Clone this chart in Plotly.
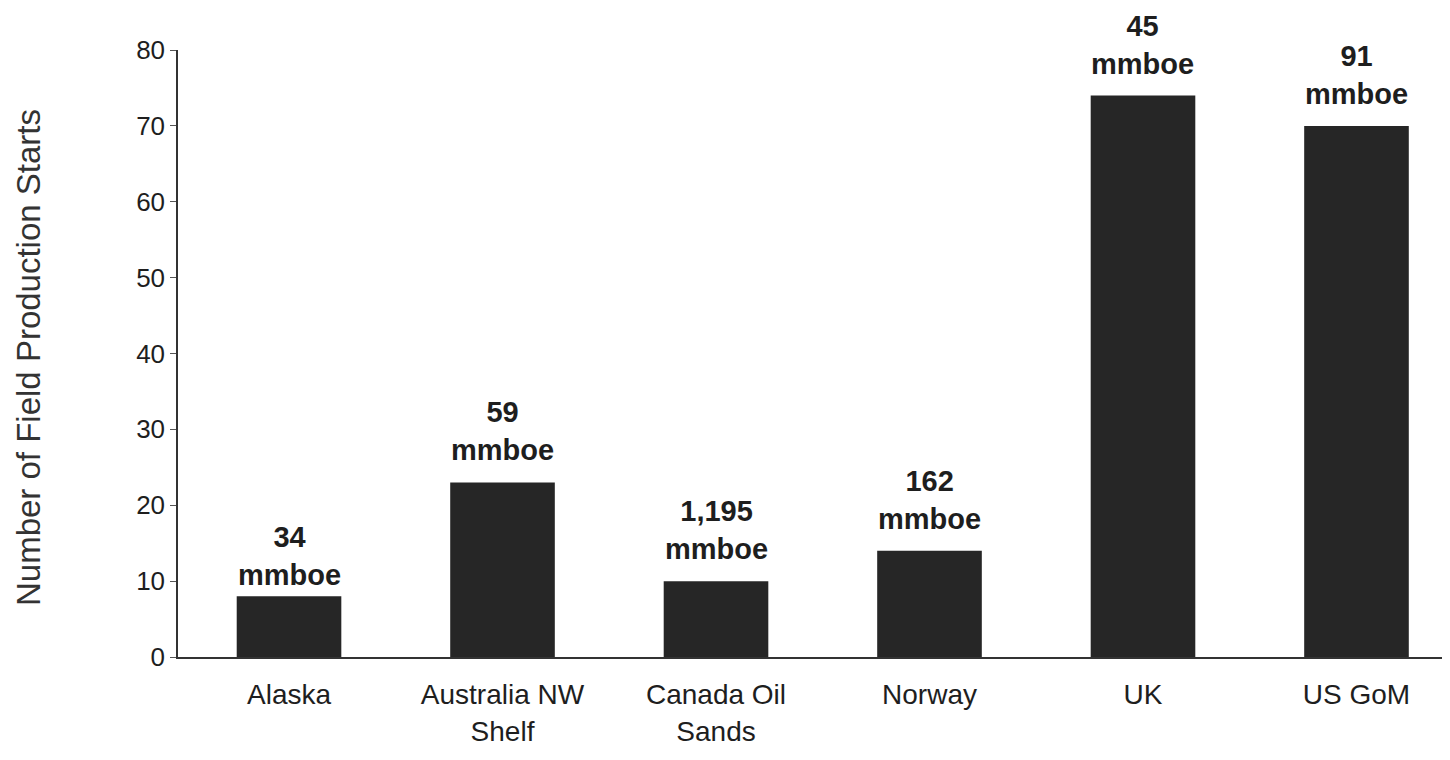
import plotly.graph_objects as go

categories = ["Alaska", "Australia NW<br>Shelf", "Canada Oil<br>Sands", "Norway", "UK", "US GoM"]
field_starts = [8, 23, 10, 14, 74, 70]
volumes_mmboe = ["34", "59", "1,195", "162", "45", "91"]
y_ticks = [0, 10, 20, 30, 40, 50, 60, 70, 80]

FONT = "Arial, Liberation Sans, sans-serif"
INK = "#1e1e1e"

fig = go.Figure()
fig.add_trace(go.Bar(
    x=list(range(len(categories))),
    y=field_starts,
    marker=dict(color="#262626", line=dict(width=0)),
    width=0.49,
    hoverinfo="skip",
))

label_shift = {0: 3}
for i, (v, lab) in enumerate(zip(field_starts, volumes_mmboe)):
    fig.add_annotation(
        x=i, y=v, xref="x", yref="y",
        text=f"<b>{lab}<br>mmboe</b>",
        showarrow=False, yanchor="bottom", yshift=label_shift.get(i, 14),
        font=dict(family=FONT, size=29, color=INK),
    )

fig.add_annotation(
    xref="paper", yref="paper", x=-0.118, y=0.494,
    text="Number of Field Production Starts",
    textangle=-90, showarrow=False, xanchor="center", yanchor="middle",
    font=dict(family=FONT, size=33, color="#333333"),
)

fig.update_layout(
    width=1442, height=752,
    margin=dict(l=170, r=0, t=42, b=103),
    paper_bgcolor="white", plot_bgcolor="white",
    showlegend=False,
    font=dict(family=FONT, color=INK),
)
fig.update_xaxes(
    range=[-0.52, 5.438],
    tickmode="array", tickvals=list(range(len(categories))), ticktext=categories,
    showline=True, linecolor="#333333", linewidth=1.5,
    ticks="", showgrid=False, zeroline=False,
    ticklabelstandoff=12,
    tickfont=dict(family=FONT, size=28, color=INK),
)
fig.update_yaxes(
    range=[0, 80],
    tickmode="array", tickvals=y_ticks,
    showline=True, linecolor="#333333", linewidth=1.5,
    ticks="outside", ticklen=6, tickcolor="#555555", tickwidth=1,
    showgrid=False, zeroline=False,
    ticklabelstandoff=0,
    tickfont=dict(family=FONT, size=26, color=INK),
)

fig.write_html("out.html")
